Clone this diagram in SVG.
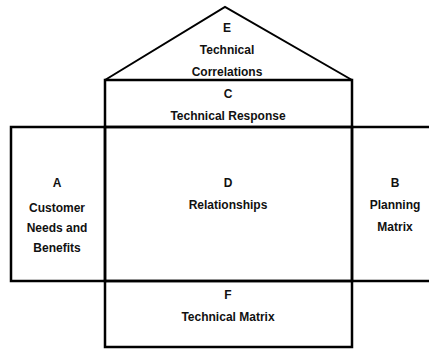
<svg xmlns="http://www.w3.org/2000/svg" width="429" height="351" viewBox="0 0 429 351">
<style>
.box{fill:none;stroke:#000;stroke-width:2.5}
.roof{fill:none;stroke:#000;stroke-width:2;stroke-linejoin:miter}
text{font-family:"Liberation Sans",Arial,sans-serif;font-weight:bold;font-size:12px;fill:#111;text-anchor:middle}
</style>
<rect width="429" height="351" fill="#fff"/>
<g id="E">
<polyline class="roof" points="105,80 225,7 352,80"/>
<text x="227" y="32">E</text>
<text x="227" y="54">Technical</text>
<text x="227" y="76">Correlations</text>
</g>
<g id="C">
<rect class="box" x="105" y="80" width="247" height="47"/>
<text x="228" y="98">C</text>
<text x="228" y="120">Technical Response</text>
</g>
<g id="A">
<rect class="box" x="11" y="127" width="94" height="154"/>
<text x="57" y="187">A</text>
<text x="57" y="212">Customer</text>
<text x="57" y="232">Needs and</text>
<text x="57" y="252">Benefits</text>
</g>
<g id="D">
<rect class="box" x="105" y="127" width="247" height="154"/>
<text x="228" y="187">D</text>
<text x="228" y="209">Relationships</text>
</g>
<g id="B">
<path class="box" d="M432,127 H352 V281 H432"/>
<text x="395" y="187">B</text>
<text x="395" y="209">Planning</text>
<text x="395" y="231">Matrix</text>
</g>
<g id="F">
<rect class="box" x="105" y="281" width="247" height="66"/>
<text x="228" y="299">F</text>
<text x="228" y="321">Technical Matrix</text>
</g>
<g id="connectors"></g>
</svg>
